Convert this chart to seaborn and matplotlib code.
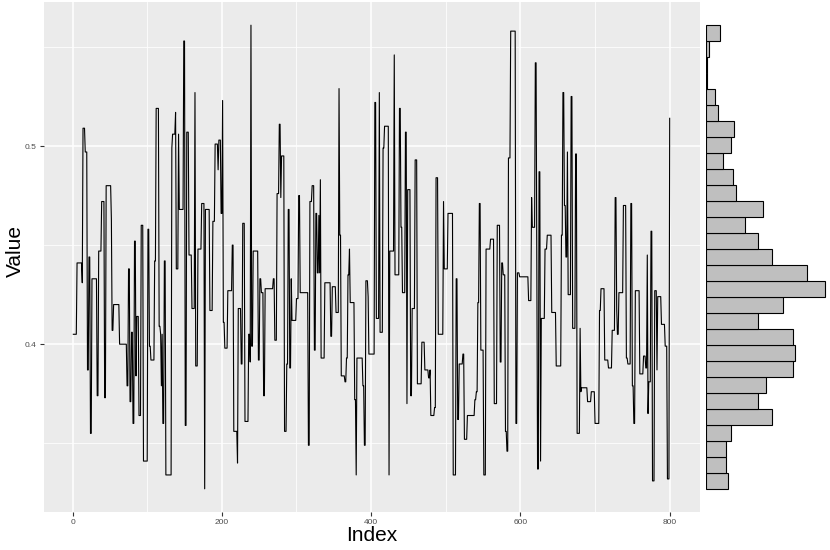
"""Trace plot with a marginal histogram (ggplot-like look), saved to out.png."""

import matplotlib

matplotlib.use("Agg")
import matplotlib.pyplot as plt
import numpy as np
import pandas as pd
import seaborn as sns

plt.rcParams["font.family"] = ["Liberation Sans", "DejaVu Sans"]

# trace: each run starts at an index and holds its value
run_start = [
    1, 6, 13, 14, 17, 20, 22, 24, 26, 33, 35, 39, 43, 45, 52, 53, 55, 63, 73, 75,
    77, 79, 81, 83, 85, 86, 89, 92, 95, 101, 103, 105, 110, 112, 116, 118, 119, 120, 121, 123,
    125, 133, 134, 138, 139, 142, 143, 149, 151, 153, 156, 160, 164, 165, 168, 173, 177, 178, 184, 188,
    191, 195, 196, 199, 201, 202, 204, 208, 214, 216, 221, 222, 226, 228, 231, 236, 238, 239, 240, 242,
    249, 251, 253, 256, 258, 269, 271, 274, 277, 279, 280, 284, 287, 289, 291, 293, 294, 300, 303, 305,
    316, 318, 321, 324, 326, 328, 330, 331, 332, 333, 338, 346, 348, 353, 357, 358, 360, 365, 367, 369,
    371, 372, 378, 380, 381, 389, 391, 393, 396, 397, 405, 407, 411, 412, 416, 418, 424, 425, 431, 432,
    438, 440, 442, 446, 448, 449, 453, 455, 459, 462, 468, 472, 477, 479, 480, 485, 487, 490, 497, 498,
    503, 510, 514, 516, 518, 523, 525, 529, 539, 541, 543, 545, 547, 551, 554, 560, 565, 569, 573, 575,
    577, 580, 582, 584, 587, 594, 596, 599, 611, 615, 616, 620, 622, 623, 625, 627, 628, 633, 636, 642,
    648, 655, 657, 659, 661, 663, 664, 668, 670, 674, 676, 680, 681, 682, 690, 695, 700, 706, 708, 713,
    718, 723, 727, 729, 730, 732, 738, 742, 744, 748, 750, 752, 754, 760, 765, 768, 770, 771, 772, 775,
    777, 780, 783, 784, 789, 794, 797, 800,
]
run_value = [
    0.405, 0.441, 0.431, 0.509, 0.497, 0.387, 0.444, 0.355, 0.433, 0.374, 0.447, 0.472, 0.373, 0.480, 0.463, 0.407, 0.420, 0.400, 0.379, 0.438,
    0.371, 0.406, 0.360, 0.452, 0.384, 0.414, 0.364, 0.460, 0.341, 0.458, 0.399, 0.392, 0.442, 0.519, 0.409, 0.405, 0.379, 0.405, 0.360, 0.442,
    0.334, 0.499, 0.506, 0.517, 0.438, 0.506, 0.468, 0.553, 0.359, 0.507, 0.445, 0.418, 0.527, 0.389, 0.448, 0.471, 0.327, 0.468, 0.417, 0.462,
    0.501, 0.488, 0.503, 0.466, 0.523, 0.411, 0.398, 0.427, 0.450, 0.356, 0.340, 0.418, 0.390, 0.461, 0.361, 0.405, 0.391, 0.561, 0.399, 0.447,
    0.392, 0.433, 0.426, 0.374, 0.428, 0.433, 0.402, 0.476, 0.511, 0.474, 0.495, 0.356, 0.390, 0.468, 0.388, 0.433, 0.412, 0.423, 0.475, 0.426,
    0.349, 0.472, 0.480, 0.397, 0.466, 0.436, 0.465, 0.436, 0.483, 0.393, 0.431, 0.404, 0.429, 0.416, 0.529, 0.455, 0.384, 0.381, 0.393, 0.435,
    0.448, 0.421, 0.372, 0.334, 0.393, 0.379, 0.349, 0.432, 0.424, 0.395, 0.522, 0.413, 0.527, 0.406, 0.499, 0.510, 0.334, 0.447, 0.546, 0.435,
    0.519, 0.459, 0.426, 0.507, 0.370, 0.478, 0.374, 0.418, 0.493, 0.380, 0.401, 0.387, 0.383, 0.387, 0.364, 0.368, 0.484, 0.405, 0.472, 0.438,
    0.466, 0.334, 0.433, 0.362, 0.390, 0.395, 0.352, 0.364, 0.372, 0.376, 0.421, 0.471, 0.397, 0.334, 0.448, 0.453, 0.370, 0.460, 0.391, 0.441,
    0.435, 0.356, 0.346, 0.494, 0.558, 0.360, 0.436, 0.434, 0.422, 0.474, 0.459, 0.542, 0.439, 0.337, 0.487, 0.341, 0.413, 0.448, 0.455, 0.416,
    0.389, 0.455, 0.527, 0.470, 0.444, 0.497, 0.425, 0.525, 0.408, 0.496, 0.355, 0.408, 0.376, 0.378, 0.371, 0.376, 0.360, 0.417, 0.428, 0.392,
    0.388, 0.407, 0.474, 0.418, 0.405, 0.426, 0.470, 0.393, 0.390, 0.471, 0.379, 0.360, 0.427, 0.385, 0.394, 0.388, 0.445, 0.365, 0.381, 0.457,
    0.331, 0.427, 0.387, 0.424, 0.410, 0.399, 0.332, 0.514,
]
n_iter = 800

# marginal histogram counts, lowest bin first (29 bins across the trace range)
hist_counts = [14, 13, 13, 16, 42, 33, 38, 55, 56, 55, 33, 49, 75, 64, 42,
               33, 25, 36, 19, 17, 11, 16, 18, 8, 6, 1, 1, 2, 9]

x_ticks = [0, 200, 400, 600, 800]
x_minor = [100, 300, 500, 700]
y_ticks = [0.4, 0.5]
y_minor = [0.35, 0.45, 0.55]

# expand runs into one value per iteration
lengths = np.diff(np.append(run_start, n_iter + 1))
values = np.repeat(run_value, lengths)
trace = pd.DataFrame({"Index": np.arange(1, n_iter + 1), "Value": values})

lo, hi = float(values.min()), float(values.max())
width = (hi - lo) / len(hist_counts)
mids = lo + width * (np.arange(len(hist_counts)) + 0.5)
bins = pd.DataFrame({"mid": mids, "count": hist_counts})
pad_y = 0.05 * (hi - lo)
pad_x = 0.05 * (n_iter - 1)

W, H = 830, 550
fig = plt.figure(figsize=(W / 100, H / 100), dpi=100)
ax = fig.add_axes([43.5 / W, 38 / H, (699.5 - 43.5) / W, (512 - 2) / H])
ax_hist = fig.add_axes([705.5 / W, 38 / H, (830 - 705.5) / W, (512 - 2) / H])

ax.set_facecolor("#EBEBEB")
sns.lineplot(data=trace, x="Index", y="Value", color="black", linewidth=0.8,
             estimator=None, ax=ax)
ax.set_xlim(1 - pad_x, n_iter + pad_x)
ax.set_ylim(lo - pad_y, hi + pad_y)
ax.set_xticks(x_ticks)
ax.set_xticks(x_minor, minor=True)
ax.set_yticks(y_ticks)
ax.set_yticks(y_minor, minor=True)
ax.grid(which="major", color="white", linewidth=1.1)
ax.grid(which="minor", color="white", linewidth=0.55)
ax.set_axisbelow(True)
for s in ax.spines.values():
    s.set_visible(False)
ax.tick_params(which="major", length=3, width=0.8, color="#333333",
               labelsize=6, labelcolor="#4D4D4D", pad=2)
ax.tick_params(which="minor", length=0)
ax.set_xlabel("Index", fontsize=15, va="center")
ax.set_ylabel("Value", fontsize=15, va="center")
ax.xaxis.set_label_coords(0.5, -0.0465)
ax.yaxis.set_label_coords(-0.043, 0.511)

sns.histplot(data=bins, y="mid", weights="count", binwidth=width,
             binrange=(lo, hi), color="#BFBFBF", edgecolor="black",
             linewidth=0.8, alpha=1, ax=ax_hist)
ax_hist.set_xlim(0, 78.3)
ax_hist.set_ylim(lo - pad_y, hi + pad_y)
ax_hist.axis("off")

fig.savefig("out.png", dpi=100)
plt.close(fig)
